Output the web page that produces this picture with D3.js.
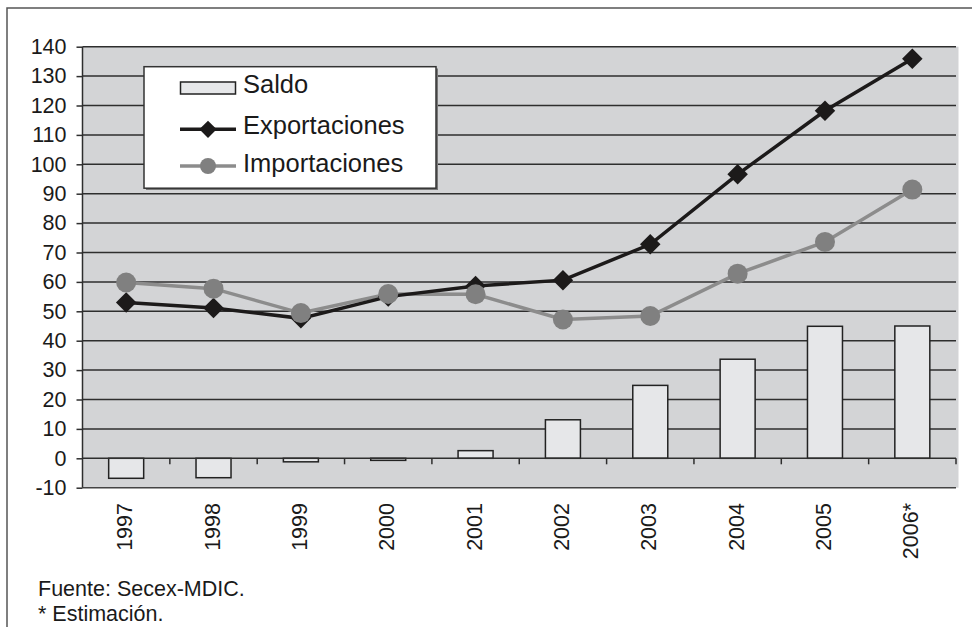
<html>
<head>
<meta charset="utf-8">
<title>Saldo, exportaciones e importaciones</title>
<style>
  body { margin: 0; background: #fff; }
  svg { display: block; font-family: "Liberation Sans", Arial, Helvetica, sans-serif; }
  .grid line { stroke: #2e2e2e; stroke-width: 1.5px; }
  .axis path, .axis line { stroke: #2e2e2e; stroke-width: 1.5px; }
  .axis text { font-size: 21.5px; fill: #1a1a1a; }
  .bar { fill: #e6e7e9; stroke: #222; stroke-width: 1.5px; }
</style>
</head>
<body>
<script src="https://cdn.jsdelivr.net/npm/d3@7"></script>
<script>
var years = ["1997", "1998", "1999", "2000", "2001", "2002", "2003", "2004", "2005", "2006*"];
var saldo = [-6.8, -6.6, -1.2, -0.7, 2.6, 13.1, 24.8, 33.7, 44.9, 45.0];
var exportaciones = [53.0, 51.1, 47.6, 55.0, 58.6, 60.6, 72.8, 96.6, 118.2, 135.9];
var importaciones = [59.8, 57.7, 49.4, 55.9, 55.8, 47.2, 48.4, 62.8, 73.6, 91.4];
var yTicks = [-10, 0, 10, 20, 30, 40, 50, 60, 70, 80, 90, 100, 110, 120, 130, 140];
var legendLabels = ["Saldo", "Exportaciones", "Importaciones"];
var footnotes = ["Fuente: Secex-MDIC.", "* Estimación."];

(function() {
  var width = 972, height = 627;
  var plotLeft = 82.5, plotRight = 956, plotTop = 46.7, plotBottom = 487.7;

  var svg = d3.select("body").append("svg")
    .attr("width", width)
    .attr("height", height);

  // outer frame
  svg.append("rect")
    .attr("x", 7).attr("y", 8)
    .attr("width", 980).attr("height", 640)
    .attr("fill", "none")
    .attr("stroke", "#555")
    .attr("stroke-width", 1.5);

  var x = d3.scaleBand().domain(years).range([plotLeft, plotRight]).padding(0);
  var y = d3.scaleLinear().domain([-10, 140]).range([plotBottom, plotTop]);
  var cx = function(i) { return x(years[i]) + x.bandwidth() / 2; };

  // plot background
  svg.append("rect")
    .attr("x", plotLeft).attr("y", plotTop)
    .attr("width", plotRight - plotLeft + 2.5).attr("height", plotBottom - plotTop)
    .attr("fill", "#d3d4d6");

  // gridlines
  svg.append("g")
    .attr("class", "grid")
    .selectAll("line")
    .data(yTicks.filter(function(d) { return d > 0; }))
    .enter().append("line")
    .attr("x1", plotLeft).attr("x2", plotRight)
    .attr("y1", function(d) { return y(d); })
    .attr("y2", function(d) { return y(d); });

  // bottom line at -10
  svg.append("line")
    .attr("x1", plotLeft).attr("x2", plotRight)
    .attr("y1", y(-10)).attr("y2", y(-10))
    .attr("stroke", "#444").attr("stroke-width", 1.5);

  // y axis (plain hyphen for negatives, as in the original)
  var yAxis = svg.append("g")
    .attr("class", "axis")
    .attr("transform", "translate(" + plotLeft + ",0)")
    .call(d3.axisLeft(y).tickValues(yTicks).tickSize(6).tickPadding(10).tickSizeOuter(0)
      .tickFormat(function(d) { return String(d); }));
  yAxis.select(".domain").attr("d", "M0," + y(-10) + "V" + y(140));

  // bars
  svg.append("g")
    .selectAll("rect")
    .data(saldo)
    .enter().append("rect")
    .attr("class", "bar")
    .attr("x", function(d, i) { return cx(i) - 17.5; })
    .attr("width", 35)
    .attr("y", function(d) { return y(Math.max(0, d)); })
    .attr("height", function(d) { return Math.abs(y(d) - y(0)); });

  // x axis at zero, ticks at category boundaries
  var xAxis = svg.append("g").attr("class", "axis");
  xAxis.append("line")
    .attr("x1", plotLeft).attr("x2", plotRight)
    .attr("y1", y(0)).attr("y2", y(0));
  xAxis.selectAll(".tk")
    .data(years.slice(1).concat(["end"]))
    .enter().append("line")
    .attr("class", "tk")
    .attr("x1", function(d) { return d === "end" ? plotRight : x(d); })
    .attr("x2", function(d) { return d === "end" ? plotRight : x(d); })
    .attr("y1", y(0)).attr("y2", y(0) + 6);

  // x labels
  svg.append("g")
    .attr("class", "axis")
    .selectAll("text")
    .data(years)
    .enter().append("text")
    .attr("transform", function(d, i) {
      return "translate(" + (cx(i) + 6) + ",503) rotate(-90)";
    })
    .attr("text-anchor", "end")
    .text(function(d) { return d; });

  // lines
  var line = d3.line()
    .x(function(d, i) { return cx(i); })
    .y(function(d) { return y(d); });

  svg.append("path")
    .datum(importaciones)
    .attr("d", line)
    .attr("fill", "none")
    .attr("stroke", "#8c8c8c")
    .attr("stroke-width", 3.5);

  svg.append("path")
    .datum(exportaciones)
    .attr("d", line)
    .attr("fill", "none")
    .attr("stroke", "#1c1a1a")
    .attr("stroke-width", 3.5);

  svg.append("g")
    .selectAll("path")
    .data(exportaciones)
    .enter().append("path")
    .attr("d", d3.symbol().type(d3.symbolSquare).size(210))
    .attr("fill", "#1c1a1a")
    .attr("transform", function(d, i) {
      return "translate(" + cx(i) + "," + y(d) + ") rotate(45)";
    });

  svg.append("g")
    .selectAll("circle")
    .data(importaciones)
    .enter().append("circle")
    .attr("cx", function(d, i) { return cx(i); })
    .attr("cy", function(d) { return y(d); })
    .attr("r", 10)
    .attr("fill", "#808080");

  // legend
  var lg = svg.append("g");
  lg.append("rect")
    .attr("x", 146).attr("y", 68.5)
    .attr("width", 292).attr("height", 121.5)
    .attr("fill", "#777");
  lg.append("rect")
    .attr("x", 144).attr("y", 66.7)
    .attr("width", 292).attr("height", 121.5)
    .attr("fill", "#fff")
    .attr("stroke", "#333")
    .attr("stroke-width", 1.5);

  var rowY = [88, 129.3, 166];
  var textY = [93.3, 134, 171.7];

  lg.append("rect")
    .attr("x", 180.5).attr("y", 82)
    .attr("width", 55).attr("height", 12)
    .attr("class", "bar");

  lg.append("line")
    .attr("x1", 180).attr("x2", 236)
    .attr("y1", rowY[1]).attr("y2", rowY[1])
    .attr("stroke", "#1c1a1a").attr("stroke-width", 3.5);
  lg.append("path")
    .attr("d", d3.symbol().type(d3.symbolSquare).size(150))
    .attr("fill", "#1c1a1a")
    .attr("transform", "translate(208," + rowY[1] + ") rotate(45)");

  lg.append("line")
    .attr("x1", 180).attr("x2", 236)
    .attr("y1", rowY[2]).attr("y2", rowY[2])
    .attr("stroke", "#8c8c8c").attr("stroke-width", 3.5);
  lg.append("circle")
    .attr("cx", 208).attr("cy", rowY[2]).attr("r", 8)
    .attr("fill", "#808080");

  lg.selectAll("text")
    .data(legendLabels)
    .enter().append("text")
    .attr("x", 243)
    .attr("y", function(d, i) { return textY[i]; })
    .attr("font-size", 25.5)
    .attr("fill", "#1a1a1a")
    .text(function(d) { return d; });

  // footnotes
  svg.selectAll(".foot")
    .data(footnotes)
    .enter().append("text")
    .attr("class", "foot")
    .attr("x", 38)
    .attr("y", function(d, i) { return 596 + i * 25; })
    .attr("font-size", 21.5)
    .attr("fill", "#1a1a1a")
    .text(function(d) { return d; });
})();
</script>
</body>
</html>
